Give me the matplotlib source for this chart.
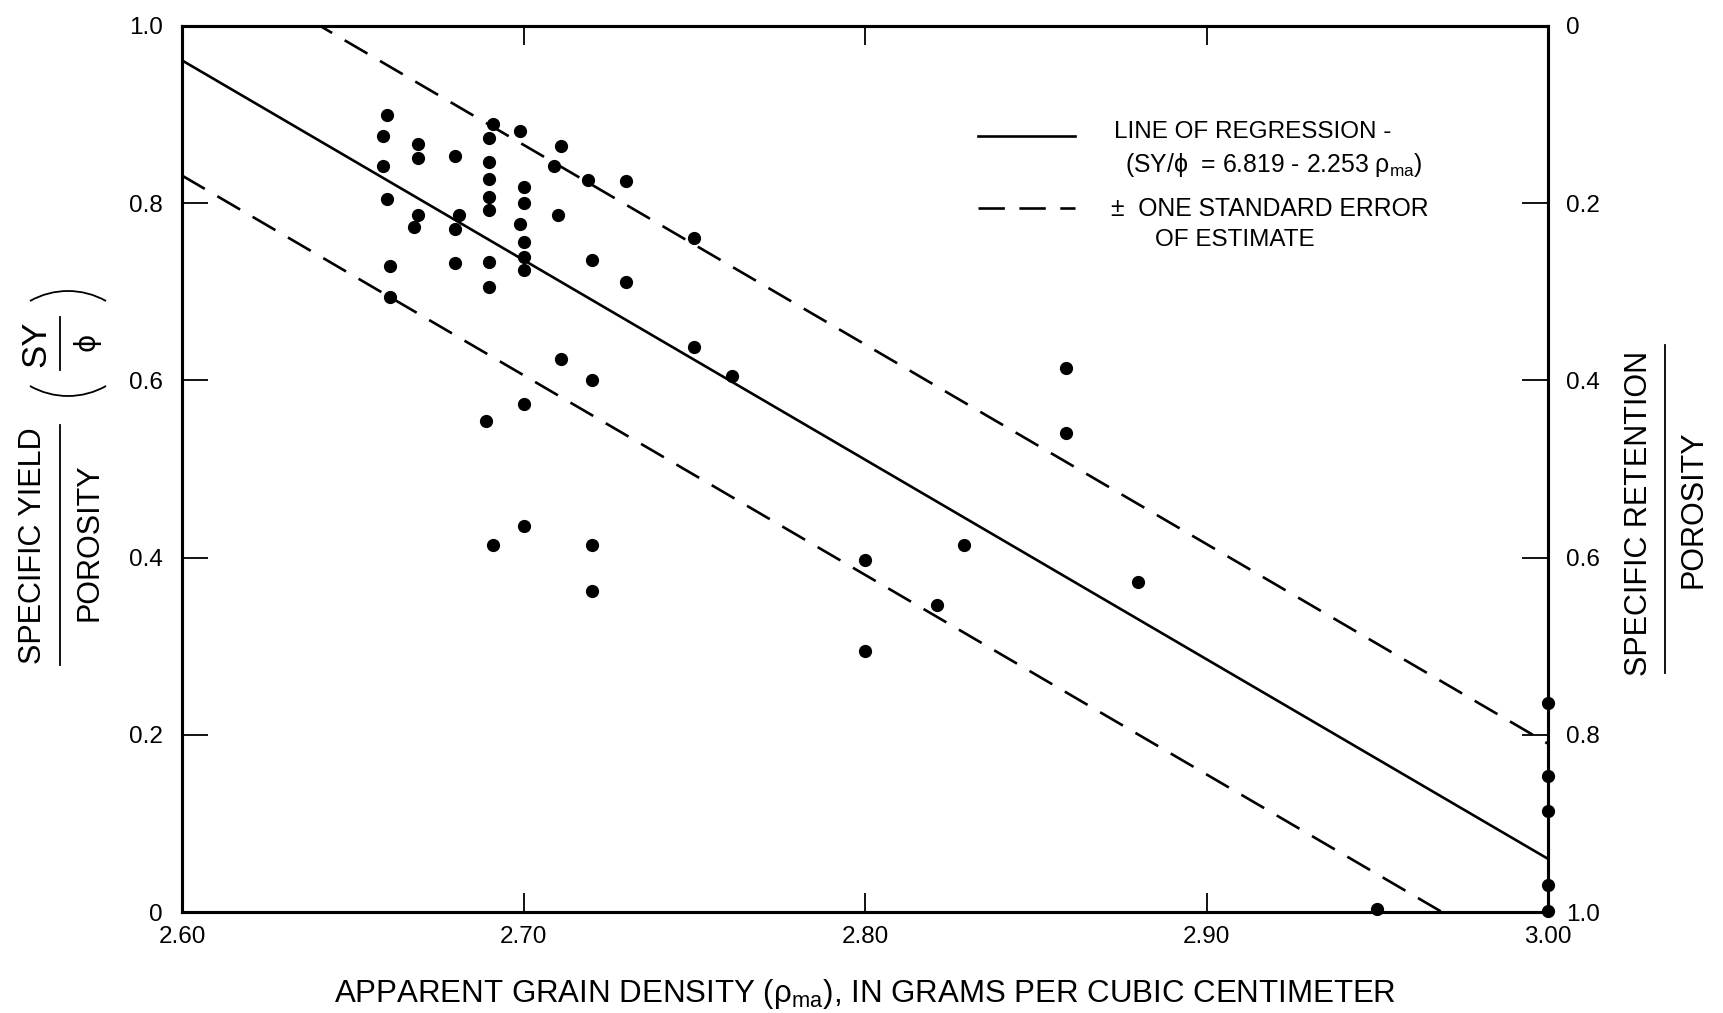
import numpy as np
import matplotlib.pyplot as plt
from matplotlib.lines import Line2D
from matplotlib.patches import Arc

plt.rcParams['font.family'] = ['Liberation Sans', 'DejaVu Sans']
plt.rcParams['mathtext.fontset'] = 'custom'
plt.rcParams['mathtext.rm'] = 'Liberation Sans'
plt.rcParams['mathtext.it'] = 'Liberation Sans:italic'

# measured samples: apparent grain density vs specific yield / porosity
density = [2.660, 2.659, 2.669, 2.669, 2.659, 2.680, 2.691, 2.690, 2.699, 2.711,
           2.709, 2.690, 2.690, 2.690, 2.690, 2.700, 2.700, 2.699, 2.700, 2.700,
           2.700, 2.719, 2.730, 2.660, 2.669, 2.668, 2.681, 2.680, 2.710, 2.750,
           2.661, 2.680, 2.690, 2.720, 2.690, 2.730, 2.661, 2.711, 2.720, 2.700,
           2.689, 2.750, 2.761, 2.700, 2.691, 2.720, 2.720, 2.859, 2.859, 2.829,
           2.800, 2.821, 2.880, 2.800, 2.950, 3.000, 3.000, 3.000, 3.000, 3.000]
sy_ratio = [0.899, 0.876, 0.867, 0.851, 0.842, 0.853, 0.889, 0.874, 0.881, 0.865,
            0.842, 0.847, 0.827, 0.807, 0.792, 0.818, 0.800, 0.777, 0.756, 0.739,
            0.725, 0.826, 0.825, 0.805, 0.787, 0.773, 0.787, 0.771, 0.787, 0.761,
            0.729, 0.733, 0.734, 0.736, 0.705, 0.711, 0.694, 0.624, 0.601, 0.573,
            0.554, 0.638, 0.605, 0.436, 0.414, 0.414, 0.362, 0.614, 0.541, 0.414,
            0.397, 0.346, 0.372, 0.295, 0.003, 0.236, 0.154, 0.114, 0.031, 0.001]

# regression SY/phi = 6.819 - 2.253 rho_ma, with one standard error band
intercept = 6.819
slope = -2.253
std_error = 0.13
x_fit = np.array([2.60, 3.00])

xticks = [2.60, 2.70, 2.80, 2.90, 3.00]
xtick_labels = ['2.60', '2.70', '2.80', '2.90', '3.00']
yticks = [0, 0.2, 0.4, 0.6, 0.8, 1.0]
ytick_labels = ['0', '0.2', '0.4', '0.6', '0.8', '1.0']

W, H = 1723, 1013
fig = plt.figure(figsize=(W / 100, H / 100), dpi=100)
ax = fig.add_axes([182 / W, 101 / H, 1366 / W, 886 / H])

y_fit = intercept + slope * x_fit
ax.plot(x_fit, y_fit, color='k', lw=1.9)
for sign in (1, -1):
    ax.plot(x_fit, y_fit + sign * std_error, color='k', lw=1.9, dashes=(10, 5.5))
ax.plot(density, sy_ratio, 'o', color='k', ms=8.5, clip_on=False, zorder=5)

ax.set_xlim(2.60, 3.00)
ax.set_ylim(0, 1)
ax.set_xticks(xticks)
ax.set_xticklabels(xtick_labels)
ax.set_yticks(yticks)
ax.set_yticklabels(ytick_labels)
ax.tick_params(axis='both', direction='in', labelsize=17.5, width=1.3, color='k')
ax.tick_params(axis='y', length=19, pad=14)
ax.tick_params(axis='x', length=14, pad=10, top=True)
for s in ax.spines.values():
    s.set_linewidth(2.2)

# right side: specific retention / porosity = 1 - SY/phi
ax2 = ax.twinx()
ax2.set_ylim(1, 0)
ax2.set_yticks(yticks)
ax2.set_yticklabels(ytick_labels)
ax2.tick_params(axis='y', direction='in', length=19, pad=13, labelsize=17.5, width=1.3)
for s in ax2.spines.values():
    s.set_linewidth(2.2)

ax.set_xlabel(r'APPARENT GRAIN DENSITY ($\mathrm{\rho_{ma}}$), IN GRAMS PER CUBIC CENTIMETER',
              fontsize=22.5, labelpad=21)

# legend drawn by hand
ax.add_line(Line2D([0.583, 0.654], [0.876, 0.876], transform=ax.transAxes, color='k', lw=1.9))
ax.add_line(Line2D([0.583, 0.654], [0.795, 0.795], transform=ax.transAxes, color='k', lw=1.9,
                   dashes=(10, 5.5)))
ax.text(0.682, 0.880, 'LINE OF REGRESSION -', transform=ax.transAxes, fontsize=17.5, va='center')
ax.text(0.690, 0.843, r'(SY/ϕ  = 6.819 - 2.253 $\mathrm{\rho_{ma}}$)', transform=ax.transAxes,
        fontsize=17.8, va='center')
ax.text(0.680, 0.793, '±  ONE STANDARD ERROR', transform=ax.transAxes, fontsize=17.8, va='center')
ax.text(0.712, 0.759, 'OF ESTIMATE', transform=ax.transAxes, fontsize=17.5, va='center')


def fx(px):
    return px / W


def fy(py):
    return 1 - py / H


# left axis title: SPECIFIC YIELD / POROSITY  (SY / phi)
fig.text(fx(33), fy(546), 'SPECIFIC YIELD', rotation=90, ha='center', va='center', fontsize=22)
fig.add_artist(Line2D([fx(60), fx(60)], [fy(425), fy(665)], transform=fig.transFigure,
                      color='k', lw=1.3))
fig.text(fx(89), fy(542), 'POROSITY', rotation=90, ha='center', va='center', fontsize=22)
fig.text(fx(36), fy(344), 'SY', rotation=90, ha='center', va='center', fontsize=25)
fig.add_artist(Line2D([fx(60), fx(60)], [fy(317), fy(370)], transform=fig.transFigure,
                      color='k', lw=1.3))
fig.text(fx(87), fy(342), 'ϕ', rotation=90, ha='center', va='center', fontsize=20,
         family=['DejaVu Sans'])
R = 77
half = 29.6
fig.add_artist(Arc((68 / 100, (H - 291 - R) / 100), 2 * R / 100, 2 * R / 100,
                   theta1=90 - half, theta2=90 + half, transform=fig.dpi_scale_trans,
                   color='k', lw=1.3))
fig.add_artist(Arc((68 / 100, (H - 396 + R) / 100), 2 * R / 100, 2 * R / 100,
                   theta1=270 - half, theta2=270 + half, transform=fig.dpi_scale_trans,
                   color='k', lw=1.3))

# right axis title: SPECIFIC RETENTION / POROSITY
fig.text(fx(1639), fy(513), 'SPECIFIC RETENTION', rotation=90, ha='center', va='center', fontsize=22)
fig.add_artist(Line2D([fx(1665), fx(1665)], [fy(345), fy(673)], transform=fig.transFigure,
                      color='k', lw=1.3))
fig.text(fx(1693), fy(509), 'POROSITY', rotation=90, ha='center', va='center', fontsize=22)

fig.savefig('out.png', dpi=100)
